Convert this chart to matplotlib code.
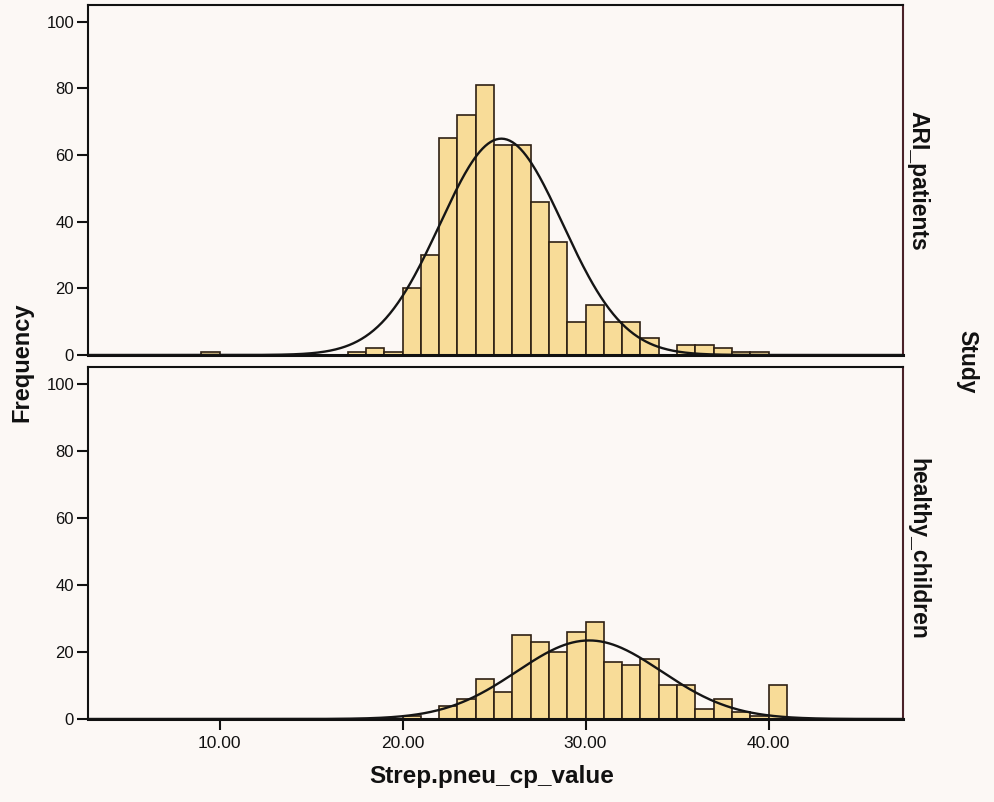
import numpy as np
import matplotlib
matplotlib.use("Agg")
import matplotlib.pyplot as plt

# Histogram bins: unit-width bins, given by their left edges
ari_edges = [9, 17, 18, 19, 20, 21, 22, 23, 24, 25, 26, 27, 28, 29, 30,
             31, 32, 33, 34, 35, 36, 37, 38, 39]
ari_counts = [1, 1, 2, 1, 20, 30, 65, 72, 81, 63, 63, 46, 34, 10, 15,
              10, 10, 5, 0, 3, 3, 2, 1, 1]

healthy_edges = [20, 21, 22, 23, 24, 25, 26, 27, 28, 29, 30, 31, 32, 33,
                 34, 35, 36, 37, 38, 39, 40]
healthy_counts = [1, 0, 4, 6, 12, 8, 25, 23, 20, 26, 29, 17, 16, 18,
                  10, 10, 3, 6, 2, 1, 10]

# Normal-curve parameters for each group (mean, std. dev., N)
ari_fit = (25.4, 3.35, 545)
healthy_fit = (30.2, 3.95, 232)

x_ticks = [10, 20, 30, 40]
y_ticks = [0, 20, 40, 60, 80, 100]
panel_labels = ["ARI_patients", "healthy_children"]

BAR_FILL = "#f8dc98"
BAR_EDGE = "#2e2014"
BG = "#fcf8f5"
FONT = "Liberation Sans"

fig = plt.figure(figsize=(9.95, 8.02), dpi=100, facecolor=BG)
W, H = 995, 802


def px_axes(left, top, right, bottom):
    return fig.add_axes([left / W, 1 - bottom / H, (right - left) / W, (bottom - top) / H])


ax_top = px_axes(88, 5, 903, 355)
ax_bot = px_axes(88, 367, 903, 719)

xlim = (2.81, 47.35)
xs = np.linspace(xlim[0], xlim[1], 600)

for ax, edges, counts, fit in [(ax_top, ari_edges, ari_counts, ari_fit),
                               (ax_bot, healthy_edges, healthy_counts, healthy_fit)]:
    ax.set_facecolor(BG)
    ax.bar(edges, counts, width=1.0, align="edge", color=BAR_FILL,
           edgecolor=BAR_EDGE, linewidth=1.2, zorder=2)
    mu, sd, n = fit
    curve = n / (sd * np.sqrt(2 * np.pi)) * np.exp(-0.5 * ((xs - mu) / sd) ** 2)
    ax.plot(xs, curve, color="#151515", linewidth=1.7, zorder=3)
    ax.set_xlim(*xlim)
    ax.set_ylim(0, 105)
    ax.set_yticks(y_ticks)
    ax.set_yticklabels([str(v) for v in y_ticks], fontsize=12, family=FONT)
    ax.tick_params(axis="y", direction="out", length=8, width=1.5, pad=2, colors="#111111")
    for side in ["left", "bottom", "top"]:
        ax.spines[side].set_color("#111111")
        ax.spines[side].set_linewidth(1.5)
    ax.spines["right"].set_color("#4a2228")
    ax.spines["right"].set_linewidth(1.5)
    ax.spines["bottom"].set_linewidth(2.2)

ax_top.set_xticks([])
ax_bot.set_xticks(x_ticks)
ax_bot.set_xticklabels([f"{v:.2f}" for v in x_ticks], fontsize=12.5, family=FONT)
ax_bot.tick_params(axis="x", direction="out", length=8, width=1.5, pad=4, colors="#111111")

# Panel labels on the right
label_style = dict(ha="center", va="center", fontweight="bold", family=FONT, color="#111111")
fig.text(918 / W, 1 - 181 / H, panel_labels[0], rotation=270, fontsize=16.5, **label_style)
fig.text(918 / W, 1 - 549 / H, panel_labels[1], rotation=270, fontsize=16.5, **label_style)
fig.text(967 / W, 1 - 362 / H, "Study", rotation=270, fontsize=16.5, **label_style)

fig.text(22 / W, 1 - 362 / H, "Frequency", rotation=90, fontsize=17, **label_style)
fig.text(492 / W, 1 - 776 / H, "Strep.pneu_cp_value", fontsize=17.5, **label_style)

fig.savefig("out.png", dpi=100, facecolor=BG)
